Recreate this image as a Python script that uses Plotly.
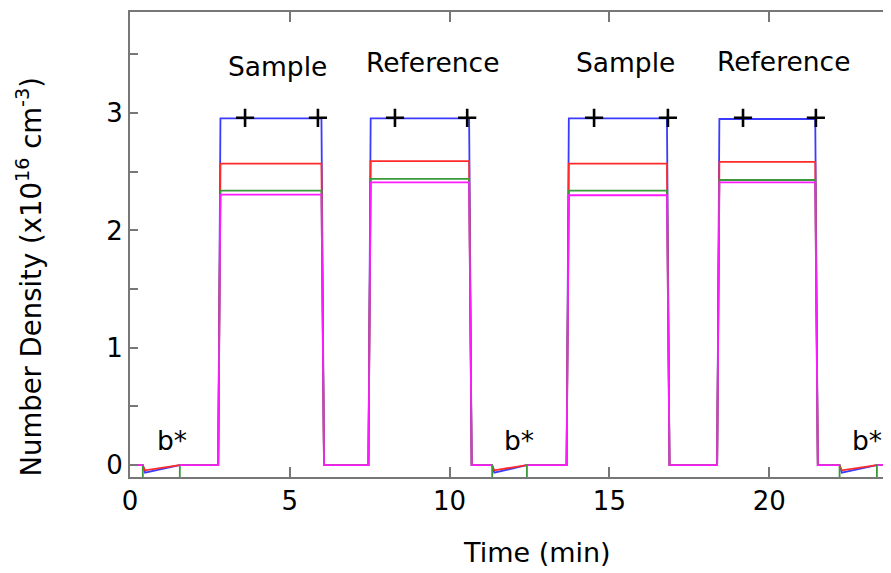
import plotly.graph_objects as go

# ---- data ----
time = [0.00, 0.40, 0.41, 0.47, 1.55, 1.56, 2.76, 2.83, 5.99, 6.07, 7.46, 7.53,
        10.61, 10.69, 11.33, 11.34, 11.40, 12.41, 12.42, 13.66, 13.73, 16.80, 16.88,
        18.37, 18.44, 21.44, 21.52, 22.20, 22.21, 22.27, 23.36, 23.37, 23.90]

blue = [0, 0, -0.01, -0.065, -0.001, 0, 0, 2.955, 2.955, 0, 0, 2.955,
        2.955, 0, 0, -0.01, -0.065, -0.001, 0, 0, 2.955, 2.955, 0,
        0, 2.95, 2.95, 0, 0, -0.01, -0.065, -0.001, 0, 0]
red = [0, 0, -0.01, -0.045, -0.001, 0, 0, 2.57, 2.57, 0, 0, 2.59,
       2.59, 0, 0, -0.01, -0.045, -0.001, 0, 0, 2.57, 2.57, 0,
       0, 2.585, 2.585, 0, 0, -0.01, -0.045, -0.001, 0, 0]
green = [0, 0, -0.5, -0.5, -0.5, 0, 0, 2.34, 2.34, 0, 0, 2.44,
         2.44, 0, 0, -0.5, -0.5, -0.5, 0, 0, 2.34, 2.34, 0,
         0, 2.43, 2.43, 0, 0, -0.5, -0.5, -0.5, 0, 0]
magenta = [0, 0, None, None, None, 0, 0, 2.305, 2.305, 0, 0, 2.41,
           2.41, 0, 0, None, None, None, 0, 0, 2.30, 2.30, 0,
           0, 2.41, 2.41, 0, 0, None, None, None, 0, 0]

cross_t = [3.60, 5.88, 8.29, 10.55, 14.52, 16.83, 19.18, 21.46]
cross_y = [2.96, 2.96, 2.96, 2.96, 2.96, 2.96, 2.96, 2.96]

label_text = ["Sample", "Reference", "Sample", "Reference"]
label_t = [4.6, 9.45, 15.5, 20.45]
label_y = [3.40, 3.43, 3.43, 3.44]

bstar_t = [1.31, 12.17, 23.06]
bstar_y = [0.21, 0.21, 0.21]

ytick_vals = [0, 1, 2, 3]
xtick_vals = [0, 5, 10, 15, 20]

FONT = "DejaVu Sans"

fig = go.Figure()
for vals, col in [(blue, "#3b3bff"), (red, "#ff2a2a"), (green, "#3a9a3a"), (magenta, "#ff1aff")]:
    fig.add_trace(go.Scatter(x=time, y=vals, mode="lines",
                             line=dict(color=col, width=1.8), connectgaps=False,
                             showlegend=False, hoverinfo="skip"))

fig.add_trace(go.Scatter(x=cross_t, y=cross_y, mode="markers",
                         marker=dict(symbol="cross-thin", size=13,
                                     line=dict(color="black", width=2.6)),
                         showlegend=False, hoverinfo="skip"))

for txt, tx, ty in zip(label_text, label_t, label_y):
    fig.add_annotation(x=tx, y=ty, text=txt, showarrow=False,
                       xanchor="center", yanchor="middle",
                       font=dict(family=FONT, size=26.5, color="black"))
for tx, ty in zip(bstar_t, bstar_y):
    fig.add_annotation(x=tx, y=ty, text="b*", showarrow=False,
                       xanchor="center", yanchor="middle",
                       font=dict(family=FONT, size=26.5, color="black"))

fig.add_annotation(xref="paper", yref="paper", x=0.535, y=-0.163, text="Time (min)",
                   xanchor="center", yanchor="middle",
                   showarrow=False, font=dict(family=FONT, size=27, color="black"))
fig.add_annotation(xref="paper", yref="paper", x=-0.132, y=0.43, textangle=-90,
                   xanchor="center", yanchor="middle",
                   text="Number Density (x10<sup>16</sup> cm<sup>-3</sup>)",
                   showarrow=False, font=dict(family=FONT, size=27.5, color="black"))

fig.update_layout(
    width=883, height=565,
    margin=dict(l=122, r=0, t=4, b=96),
    plot_bgcolor="white", paper_bgcolor="white",
    font=dict(family=FONT, size=26, color="black"),
    xaxis=dict(range=[0, 23.81], tickvals=xtick_vals, ticks="inside", ticklen=10,
               tickwidth=2, tickcolor="#777", showline=True, linecolor="#777",
               linewidth=2, mirror="ticks", showgrid=False, zeroline=False,
               tickfont=dict(family=FONT, size=26)),
    yaxis=dict(range=[-0.102, 3.862], tickvals=ytick_vals,
               ticks="inside", ticklen=8, tickwidth=1.5, tickcolor="#777",
               minor=dict(dtick=0.5, tick0=0, ticks="inside", ticklen=8,
                          tickwidth=1.5, tickcolor="#777", showgrid=False),
               showline=True, linecolor="#777", linewidth=2, showgrid=False,
               zeroline=False, tickfont=dict(family=FONT, size=26)),
)

fig.write_html("out.html")
